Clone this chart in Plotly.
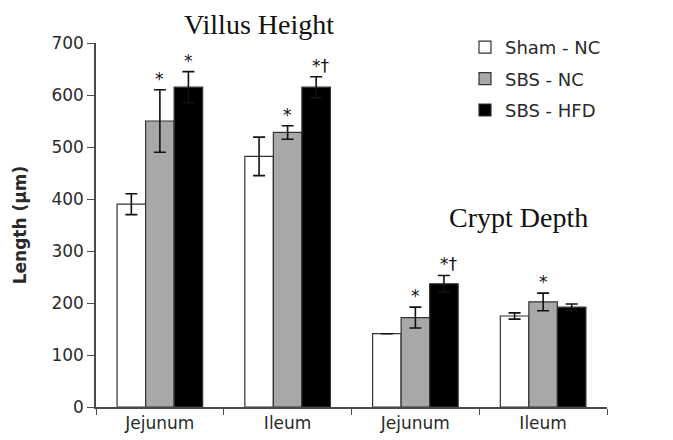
import plotly.graph_objects as go

categories = ["Jejunum", "Ileum", "Jejunum ", "Ileum "]
cat_labels = ["Jejunum", "Ileum", "Jejunum", "Ileum"]
series_names = ["Sham - NC", "SBS - NC", "SBS - HFD"]
sham_nc = [390, 482, 141, 175]
sham_nc_err = [20, 37, 0, 6]
sbs_nc = [550, 528, 172, 202]
sbs_nc_err = [60, 13, 20, 17]
sbs_hfd = [615, 615, 237, 192]
sbs_hfd_err = [30, 20, 16, 6]
sig_sham = ["", "", "", ""]
sig_sbs_nc = ["*", "*", "*", "*"]
sig_sbs_hfd = ["*", "*†", "*†", ""]
panel_titles = ["Villus Height", "Crypt Depth"]

values = [sham_nc, sbs_nc, sbs_hfd]
errors = [sham_nc_err, sbs_nc_err, sbs_hfd_err]
sigs = [sig_sham, sig_sbs_nc, sig_sbs_hfd]
fills = ["#ffffff", "#a8a8a8", "#000000"]

SANS = "DejaVu Sans"
SERIF = "Liberation Serif"
TXT = "#2a2a2a"
AX = "#4a4a4a"

OFF = 8  # page body margin
L, R, T, B = 96 - OFF, 66, 43 - OFF, 33
W, H = 673 - OFF, 440 - OFF
pw, ph = W - L - R, H - T - B

fig = go.Figure()
for name, v, e, c in zip(series_names, values, errors, fills):
    fig.add_trace(go.Bar(
        x=categories, y=v, name=name, legendgroup=name,
        marker=dict(color=c, line=dict(color="#333333", width=1.2)),
        error_y=dict(type="data", array=e, visible=True, color="#111111",
                     thickness=1.6, width=6),
    ))

bargap = 0.33
slot = (1 - bargap) / 3
annotations = []
for i, (v, e, s) in enumerate(zip(values, errors, sigs)):
    for j in range(len(categories)):
        if s[j]:
            annotations.append(dict(
                x=j + (i - 1) * slot, y=v[j] + e[j], xref="x", yref="y",
                text=s[j], showarrow=False, yanchor="bottom", yshift=-1,
                xshift=5 if len(s[j]) > 1 else 0,
                font=dict(family=SANS, size=17, color="#111111")))


def px_to_paper(px, py):
    return (px - OFF - L) / pw, (H - B - (py - OFF)) / ph


title_pos = [(259, 25), (518, 217)]
for txt, (px, py) in zip(panel_titles, title_pos):
    xp, yp = px_to_paper(px, py)
    annotations.append(dict(
        x=xp, y=yp, xref="paper", yref="paper",
        xanchor="center", yanchor="middle", text=txt, showarrow=False,
        font=dict(family=SERIF, size=28, color="#111111")))

lx, ly = px_to_paper(465, 29)

fig.update_layout(
    width=W, height=H,
    margin=dict(l=L, r=R, t=T, b=B, pad=0),
    plot_bgcolor="white", paper_bgcolor="white",
    barmode="group", bargap=bargap, bargroupgap=0,
    font=dict(family=SANS, color=TXT),
    legend=dict(x=lx, y=ly, xanchor="left", yanchor="top",
                font=dict(family=SANS, size=18, color=TXT), tracegroupgap=5,
                bgcolor="rgba(0,0,0,0)"),
    annotations=annotations,
    xaxis=dict(type="category", tickmode="array", tickvals=categories, ticktext=cat_labels,
               tickson="boundaries", ticks="outside", ticklen=6, tickcolor=AX,
               showline=True, linecolor=AX, linewidth=1.5, automargin=False,
               tickfont=dict(family=SANS, size=17, color=TXT), range=[-0.5, 3.5],
               showgrid=False, zeroline=False),
    yaxis=dict(range=[0, 700], tickmode="array", tickvals=list(range(0, 701, 100)),
               ticks="outside", ticklen=7, tickcolor=AX, automargin=False,
               showline=True, linecolor=AX, linewidth=1.5,
               tickfont=dict(family=SANS, size=17, color=TXT), showgrid=False, zeroline=False,
               title=dict(text="<b>Length (µm)</b>", font=dict(family=SANS, size=17, color=TXT),
                          standoff=20)),
)
fig.write_html("out.html")
